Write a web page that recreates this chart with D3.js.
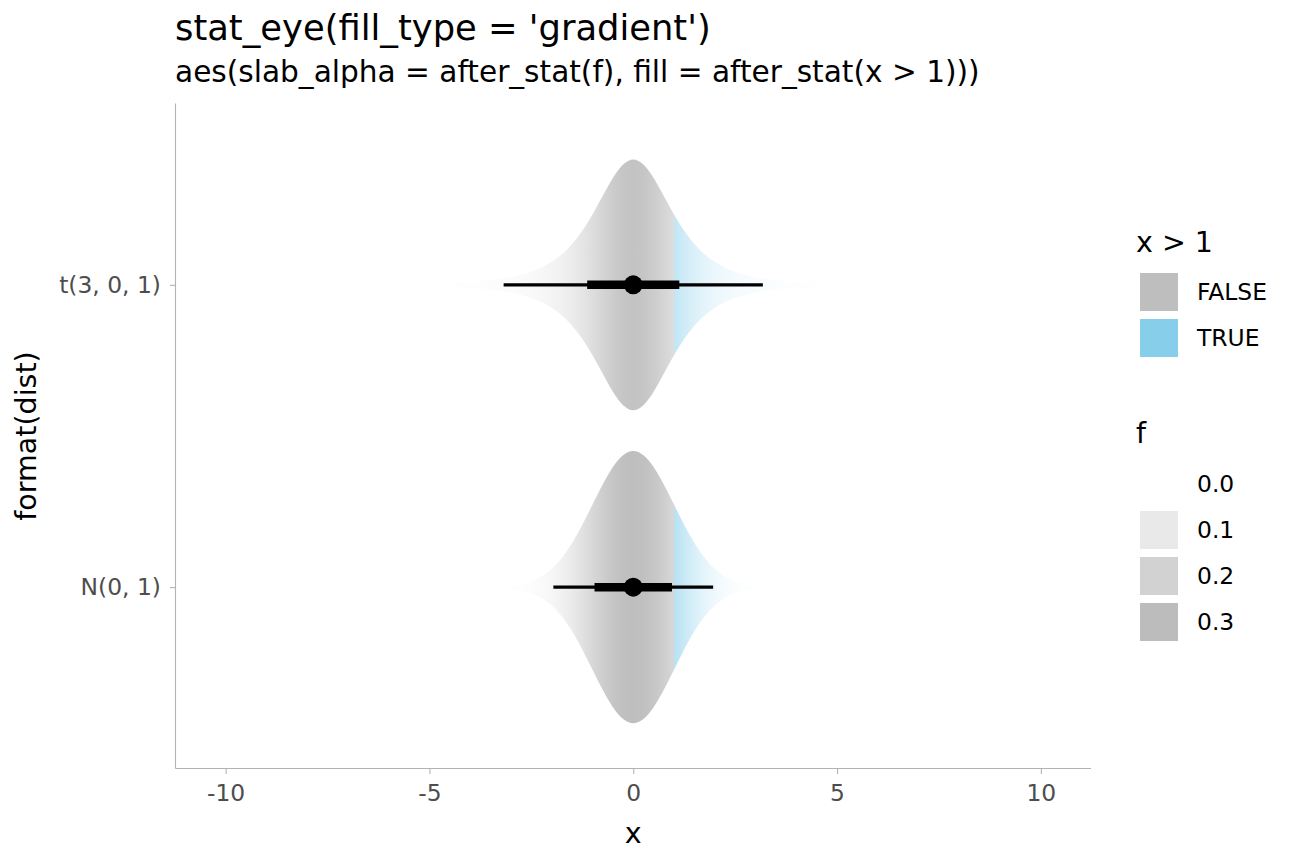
<!DOCTYPE html>
<html>
<head>
<meta charset="utf-8">
<script src="https://cdn.jsdelivr.net/npm/d3@7"></script>
<style>
  html, body { margin: 0; padding: 0; background: #fff; }
  text { font-family: "DejaVu Sans", sans-serif; }
</style>
</head>
<body>
<svg id="chart" width="1296" height="864"></svg>
<script>
// ---------------- data ----------------
const categories = ["t(3, 0, 1)", "N(0, 1)"];

// density of t(3, 0, 1) read at these x positions
const tX = [-10.2, -9, -8, -7, -6, -5, -4.5, -4, -3.75, -3.5, -3.25, -3, -2.75, -2.5, -2.25, -2, -1.75, -1.5, -1.25, -1, -0.75, -0.5, -0.25,
            0, 0.25, 0.5, 0.75, 1, 1.25, 1.5, 1.75, 2, 2.25, 2.5, 2.75, 3, 3.25, 3.5, 3.75, 4, 4.5, 5, 6, 7, 8, 9, 10.2];
const tDensity = [0.00029, 0.00047, 0.00074, 0.0012, 0.0022, 0.0042, 0.0061, 0.0092, 0.0114, 0.0142, 0.0180, 0.0230, 0.0297, 0.0387, 0.0509, 0.0675, 0.0900, 0.1200, 0.1589, 0.2067, 0.2606, 0.3132, 0.3527,
                  0.3676, 0.3527, 0.3132, 0.2606, 0.2067, 0.1589, 0.1200, 0.0900, 0.0675, 0.0509, 0.0387, 0.0297, 0.0230, 0.0180, 0.0142, 0.0114, 0.0092, 0.0061, 0.0042, 0.0022, 0.0012, 0.00074, 0.00047, 0.00029];

// density of N(0, 1) read at these x positions
const nX = [-3.09, -3, -2.75, -2.5, -2.25, -2, -1.75, -1.5, -1.25, -1, -0.75, -0.5, -0.25,
            0, 0.25, 0.5, 0.75, 1, 1.25, 1.5, 1.75, 2, 2.25, 2.5, 2.75, 3, 3.09];
const nDensity = [0.0034, 0.0044, 0.0091, 0.0175, 0.0317, 0.0540, 0.0863, 0.1295, 0.1826, 0.2420, 0.3011, 0.3521, 0.3867,
                  0.3989, 0.3867, 0.3521, 0.3011, 0.2420, 0.1826, 0.1295, 0.0863, 0.0540, 0.0317, 0.0175, 0.0091, 0.0044, 0.0034];

// point + intervals (median, 66% and 95%)
const pointMedian = [0, 0];
const thickLow = [-1.13, -0.95];
const thickHigh = [1.13, 0.95];
const thinLow = [-3.18, -1.96];
const thinHigh = [3.18, 1.96];

const xTicks = [-10, -5, 0, 5, 10];
const fillLevels = ["FALSE", "TRUE"];
const fillColors = ["#BEBEBE", "#87CEEB"];
const alphaBreaks = [0.0, 0.1, 0.2, 0.3];
const alphaLabels = ["0.0", "0.1", "0.2", "0.3"];
const threshold = 1;

// ---------------- layout ----------------
const svg = d3.select("#chart");
const panel = { left: 175.5, right: 1091, top: 103.5, bottom: 768.5 };
const axisColor = "#B3B3B3";
const textColor = "#4D4D4D";
const smallFont = 23.4;

const x = d3.scaleLinear().domain([-11.23, 11.23]).range([panel.left, panel.right]);
const y = d3.scalePoint().domain(categories).range([panel.top, panel.bottom]).padding(0.6);
const step = y.step();

const fMax = d3.max([...tDensity, ...nDensity]);
const alpha = d3.scaleLinear().domain([0, fMax]).range([0, 1]);
const halfH = d3.scaleLinear().domain([0, fMax]).range([0, 0.45 * step]);
const fillScale = d3.scaleOrdinal().domain(fillLevels).range(fillColors);

const series = [
  { cat: categories[0], xs: tX, fs: tDensity, i: 0 },
  { cat: categories[1], xs: nX, fs: nDensity, i: 1 }
];

const defs = svg.append("defs");

// ---------------- slabs ----------------
series.forEach(s => {
  const pts = s.xs.map((v, k) => ({ x: v, f: s.fs[k] }));
  const x0 = x(s.xs[0]), x1 = x(s.xs[s.xs.length - 1]);
  const grad = defs.append("linearGradient")
    .attr("id", "grad" + s.i)
    .attr("gradientUnits", "userSpaceOnUse")
    .attr("x1", x0).attr("x2", x1).attr("y1", 0).attr("y2", 0);
  const off = v => (x(v) - x0) / (x1 - x0);
  pts.forEach((p, k) => {
    const prev = k > 0 ? pts[k - 1] : null;
    if (prev && prev.x < threshold && p.x > threshold) {
      const t = (threshold - prev.x) / (p.x - prev.x);
      const fi = prev.f + t * (p.f - prev.f);
      grad.append("stop").attr("offset", off(threshold)).attr("stop-color", fillScale("FALSE")).attr("stop-opacity", alpha(fi));
      grad.append("stop").attr("offset", off(threshold)).attr("stop-color", fillScale("TRUE")).attr("stop-opacity", alpha(fi));
    }
    grad.append("stop")
      .attr("offset", off(p.x))
      .attr("stop-color", fillScale(p.x > threshold ? "TRUE" : "FALSE"))
      .attr("stop-opacity", alpha(p.f));
    if (p.x === threshold) {
      grad.append("stop").attr("offset", off(p.x)).attr("stop-color", fillScale("TRUE")).attr("stop-opacity", alpha(p.f));
    }
  });

  const yc = y(s.cat);
  const area = d3.area()
    .x(d => x(d.x))
    .y0(d => yc - halfH(d.f))
    .y1(d => yc + halfH(d.f))
    .curve(d3.curveMonotoneX);
  svg.append("path")
    .attr("d", area(pts))
    .attr("fill", `url(#grad${s.i})`)
    .attr("stroke", "none");
});

// ---------------- intervals ----------------
series.forEach(s => {
  const yc = y(s.cat);
  svg.append("line")
    .attr("x1", x(thinLow[s.i])).attr("x2", x(thinHigh[s.i]))
    .attr("y1", yc).attr("y2", yc)
    .attr("stroke", "#000").attr("stroke-width", 3.2);
  svg.append("line")
    .attr("x1", x(thickLow[s.i])).attr("x2", x(thickHigh[s.i]))
    .attr("y1", yc).attr("y2", yc)
    .attr("stroke", "#000").attr("stroke-width", 8.5);
  svg.append("circle")
    .attr("cx", x(pointMedian[s.i])).attr("cy", yc)
    .attr("r", 9.5).attr("fill", "#000");
});

// ---------------- axes ----------------
const xAxis = d3.axisBottom(x).tickValues(xTicks).tickSize(5.5).tickPadding(5).tickFormat(d3.format("d"));
const gx = svg.append("g").attr("transform", `translate(0,${panel.bottom})`).call(xAxis);
gx.select(".domain").attr("stroke", axisColor).attr("stroke-width", 1.1)
  .attr("d", `M${panel.left},0H${panel.right}`);
gx.selectAll(".tick line").attr("stroke", axisColor).attr("stroke-width", 1.1);
gx.selectAll(".tick text").attr("fill", textColor).attr("font-size", smallFont)
  .attr("font-family", "DejaVu Sans").attr("dy", "0.95em")
  .text(d => d < 0 ? "-" + Math.abs(d) : d);

const yAxis = d3.axisLeft(y).tickSize(5.5).tickPadding(9);
const gy = svg.append("g").attr("transform", `translate(${panel.left},0)`).call(yAxis);
gy.select(".domain").attr("stroke", axisColor).attr("stroke-width", 1.1)
  .attr("d", `M0,${panel.top}V${panel.bottom}`);
gy.selectAll(".tick line").attr("stroke", axisColor).attr("stroke-width", 1.1);
gy.selectAll(".tick text").attr("fill", textColor).attr("font-size", smallFont)
  .attr("font-family", "DejaVu Sans");

// axis titles
svg.append("text").attr("x", (panel.left + panel.right) / 2).attr("y", 843)
  .attr("text-anchor", "middle").attr("font-size", 28.5).attr("fill", "#000").text("x");
svg.append("text")
  .attr("transform", `translate(36,${(panel.top + panel.bottom) / 2}) rotate(-90)`)
  .attr("text-anchor", "middle").attr("font-size", 28.5).attr("fill", "#000").text("format(dist)");

// titles
svg.append("text").attr("x", 175).attr("y", 40).attr("font-size", 35.3).attr("fill", "#000")
  .text("stat_eye(fill_type = 'gradient')");
svg.append("text").attr("x", 175).attr("y", 82).attr("font-size", 29.6).attr("fill", "#000")
  .text("aes(slab_alpha = after_stat(f), fill = after_stat(x > 1)))");

// ---------------- legends ----------------
const keyX = 1140, keySize = 38, keyStep = 46, labelX = 1197;
const lg1 = svg.append("g");
lg1.append("text").attr("x", 1136).attr("y", 252).attr("font-size", 28.5).attr("fill", "#000").text("x > 1");
fillLevels.forEach((lv, k) => {
  const ky = 273 + k * keyStep;
  lg1.append("rect").attr("x", keyX).attr("y", ky).attr("width", keySize).attr("height", keySize)
    .attr("fill", fillScale(lv));
  lg1.append("text").attr("x", labelX).attr("y", ky + keySize / 2).attr("dy", "0.36em")
    .attr("font-size", smallFont).attr("fill", "#000").text(lv);
});

const lg2 = svg.append("g");
lg2.append("text").attr("x", 1136).attr("y", 443).attr("font-size", 28.5).attr("fill", "#000").text("f");
alphaBreaks.forEach((b, k) => {
  const ky = 465 + k * keyStep;
  lg2.append("rect").attr("x", keyX).attr("y", ky).attr("width", keySize).attr("height", keySize)
    .attr("fill", "#A6A6A6").attr("fill-opacity", alpha(b));
  lg2.append("text").attr("x", labelX).attr("y", ky + keySize / 2).attr("dy", "0.36em")
    .attr("font-size", smallFont).attr("fill", "#000").text(alphaLabels[k]);
});
</script>
</body>
</html>
